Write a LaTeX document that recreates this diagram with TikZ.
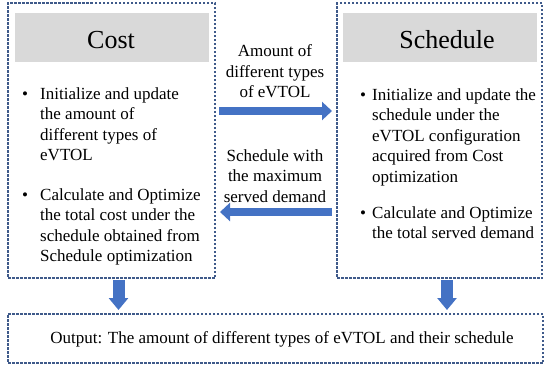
\documentclass[tikz,border=0pt]{standalone}
\usepackage{fontspec}
\setmainfont{Liberation Serif}
\usetikzlibrary{arrows.meta}
\definecolor{boxline}{HTML}{3F5A8A}
\definecolor{hdrgray}{HTML}{D9D9D9}
\definecolor{arrblue}{HTML}{4472C4}
\begin{document}
\begin{tikzpicture}[x=1pt,y=-1pt,
  panel/.style={draw=boxline, line width=1.1pt, dash pattern=on 2.5pt off 1.5pt, inner sep=0pt, outer sep=0pt},
  hdr/.style={fill=hdrgray, inner sep=0pt, outer sep=0pt, minimum width=194pt, minimum height=49pt},
  title/.style={inner sep=0pt, font=\fontsize{26}{30}\selectfont},
  txt/.style={inner sep=0pt, align=left, font=\fontsize{17}{20.5}\selectfont},
  ctxt/.style={inner sep=0pt, align=center, font=\fontsize{17}{20.5}\selectfont},
  flowh/.style={draw=arrblue, line width=7.5pt, -{Triangle[length=10pt,width=18pt]}},
  flowv/.style={draw=arrblue, line width=12pt, -{Triangle[length=12pt,width=19pt]}}]
\useasboundingbox (0,0) rectangle (550,370);
% panels
\node[panel, minimum width=207pt, minimum height=275pt] (L) at (111.5,140.5) {};
\node[panel, minimum width=205pt, minimum height=275pt] (R) at (439.5,140.5) {};
\node[panel, minimum width=535pt, minimum height=49pt] (O) at (275.5,338.5) {};
% headers
\node[hdr] (LH) at (112,37.5) {};
\node[hdr] (RH) at (440,37.5) {};
\node[title, anchor=base] (LT) at (111,48.5) {Cost};
\node[title, anchor=base] (RT) at (447,48.5) {Schedule};
% left bullets (base anchor = baseline of last line)
\node[txt, anchor=base] (LB1) at (25,99) {•};
\node[txt, anchor=base west] (L1) at (40,160.5) {Initialize and update\\the amount of\\different types of\\eVTOL};
\node[txt, anchor=base] (LB2) at (25,200) {•};
\node[txt, anchor=base west] (L2) at (40,261.5) {Calculate and Optimize\\the total cost under the\\schedule obtained from\\Schedule optimization};
% right bullets
\node[txt, anchor=base] (RB1) at (363,100) {•};
\node[txt, anchor=base west] (R1) at (372,182) {Initialize and update the\\schedule under the\\eVTOL configuration\\acquired from Cost\\optimization};
\node[txt, anchor=base] (RB2) at (363,218) {•};
\node[txt, anchor=base west] (R2) at (372,238.5) {Calculate and Optimize\\the total served demand};
% middle labels
\node[ctxt, anchor=base] (M1) at (275,97.5) {Amount of\\different types\\of eVTOL};
\node[ctxt, anchor=base] (M2) at (275,202) {Schedule with\\the maximum\\served demand};
% output
\node[ctxt, anchor=base] (OT) at (282,343.5) {Output: The amount of different types of eVTOL and their schedule};
% arrows
\coordinate (ya) at (0,111);
\coordinate (yb) at (0,212);
\coordinate (xl) at (118.5,0);
\coordinate (xr) at (447,0);
\draw[flowh, shorten <=4pt, shorten >=5pt] (L.east |- ya) -- (R.west |- ya);
\draw[flowh, shorten <=5pt, shorten >=5pt] (R.west |- yb) -- (L.east |- yb);
\draw[flowv, shorten <=2pt, shorten >=4pt] (xl |- L.south) -- (xl |- O.north);
\draw[flowv, shorten <=2pt, shorten >=4pt] (xr |- R.south) -- (xr |- O.north);
\end{tikzpicture}
\end{document}
